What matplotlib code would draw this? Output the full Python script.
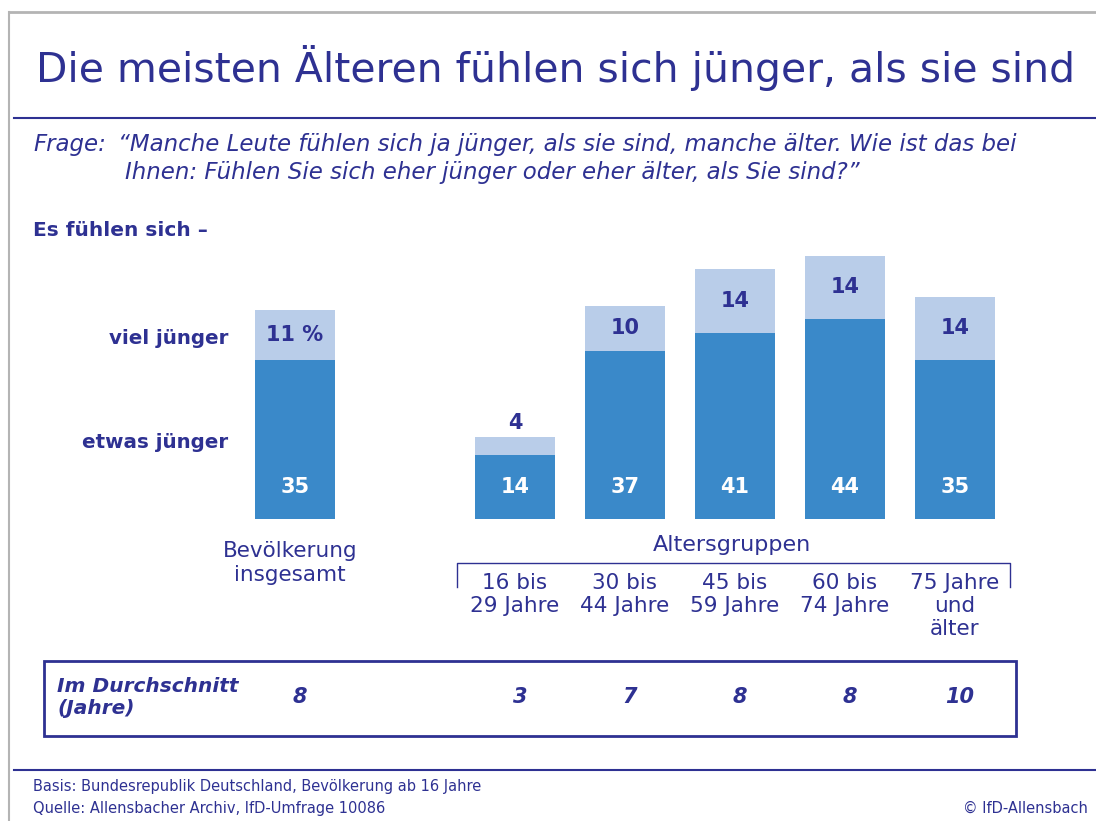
import numpy as np
import matplotlib.pyplot as plt
from matplotlib.patches import Rectangle

# Data
groups = ["Bevölkerung\ninsgesamt", "16 bis\n29 Jahre", "30 bis\n44 Jahre",
          "45 bis\n59 Jahre", "60 bis\n74 Jahre", "75 Jahre\nund\nälter"]
positions = [0, 2, 3, 4, 5, 6]
etwas_juenger = [35, 14, 37, 41, 44, 35]
viel_juenger = [11, 4, 10, 14, 14, 14]
durchschnitt = [8, 3, 7, 8, 8, 10]

NAVY = "#2E3192"
DARK = "#3A89C9"
LIGHT = "#B9CDE9"
W, H = 1096, 821

plt.rcParams['font.family'] = ['DejaVu Sans']
fig = plt.figure(figsize=(W / 100, H / 100), dpi=100)

# background axes in pixel coordinates for the page decoration
bg = fig.add_axes([0, 0, 1, 1])
bg.set_xlim(0, W)
bg.set_ylim(H, 0)
bg.axis("off")

# gray frame
bg.plot([9, W], [12, 12], color="#B4B4B4", lw=2)
bg.plot([9, 9], [12, H], color="#B4B4B4", lw=1.5)

# title and rule
bg.text(36, 68, "Die meisten Älteren fühlen sich jünger, als sie sind",
        fontsize=29.4, color=NAVY, va="center", ha="left")
bg.plot([14, W], [118, 118], color=NAVY, lw=1.5)

# question
bg.text(33, 145, "Frage:", fontsize=16.5, style="italic", color=NAVY, va="center")
bg.text(118, 145, "\u201cManche Leute fühlen sich ja jünger, als sie sind, manche älter. Wie ist das bei",
        fontsize=16.5, style="italic", color=NAVY, va="center", ha="left")
bg.text(125, 172, "Ihnen: Fühlen Sie sich eher jünger oder eher älter, als Sie sind?\u201d",
        fontsize=16.5, style="italic", color=NAVY, va="center", ha="left")

bg.text(33, 230, "Es fühlen sich \u2013", fontsize=14.5, fontweight="bold", color=NAVY, va="center")
bg.text(228, 338, "viel jünger", fontsize=14.3, fontweight="bold", color=NAVY, va="center", ha="right")
bg.text(228, 443, "etwas jünger", fontsize=14.3, fontweight="bold", color=NAVY, va="center", ha="right")

# bar axes: x unit = 110 px, centre of first bar at 295 px, baseline at 519 px
x0_px, unit_px = 295, 110
xmin, xmax = -2.5, 7.0
ymax = 60
base_px, per_pt = 519, 4.54
left = (x0_px + xmin * unit_px) / W
width = (xmax - xmin) * unit_px / W
bottom = (H - base_px) / H
height = ymax * per_pt / H
ax = fig.add_axes([left, bottom, width, height])
ax.set_xlim(xmin, xmax)
ax.set_ylim(0, ymax)
ax.axis("off")

bw = 80 / unit_px
ax.bar(positions, etwas_juenger, width=bw, color=DARK)
ax.bar(positions, viel_juenger, width=bw, bottom=etwas_juenger, color=LIGHT)

for i, (x, e, v) in enumerate(zip(positions, etwas_juenger, viel_juenger)):
    ax.text(x, 7, str(e), ha="center", va="center", color="white",
            fontsize=15, fontweight="bold")
    lab = f"{v} %" if i == 0 else str(v)
    if v < 6:
        ax.text(x, e + v + 1, lab, ha="center", va="bottom", color=NAVY,
                fontsize=15, fontweight="bold")
    else:
        ax.text(x, e + v / 2, lab, ha="center", va="center", color=NAVY,
                fontsize=15, fontweight="bold")

# category labels below the bars
for x, g in zip(positions, groups):
    if x == 0:
        bg.text(x0_px - 5, 541, g, ha="center", va="top", fontsize=15.5, color=NAVY,
                linespacing=1.25)
    else:
        bg.text(x0_px + x * unit_px, 573, g, ha="center", va="top", fontsize=15.5,
                color=NAVY, linespacing=1.2)
bg.text(732, 545, "Altersgruppen", ha="center", va="center", fontsize=16, color=NAVY)
bg.plot([457, 457, 1010, 1010], [587, 563, 563, 587], color=NAVY, lw=1)

# average box
bg.add_patch(Rectangle((44, 661), 972, 75, fill=False, edgecolor=NAVY, lw=2))
bg.text(57, 698, "Im Durchschnitt\n(Jahre)", ha="left", va="center", fontsize=14.5,
        style="italic", fontweight="bold", color=NAVY, linespacing=1.2)
for x, d in zip(positions, durchschnitt):
    bg.text(x0_px + x * unit_px + 5, 697, str(d), ha="center", va="center", fontsize=15,
            style="italic", fontweight="bold", color=NAVY)

# footer
bg.plot([14, W], [770, 770], color=NAVY, lw=1.5)
bg.text(33, 786, "Basis: Bundesrepublik Deutschland, Bevölkerung ab 16 Jahre",
        fontsize=10.5, color=NAVY, va="center")
bg.text(33, 808, "Quelle: Allensbacher Archiv, IfD-Umfrage 10086",
        fontsize=10.5, color=NAVY, va="center")
bg.text(1088, 808, "\u00a9 IfD-Allensbach", fontsize=10.5, color=NAVY, va="center", ha="right")

fig.savefig("out.png", dpi=100)
